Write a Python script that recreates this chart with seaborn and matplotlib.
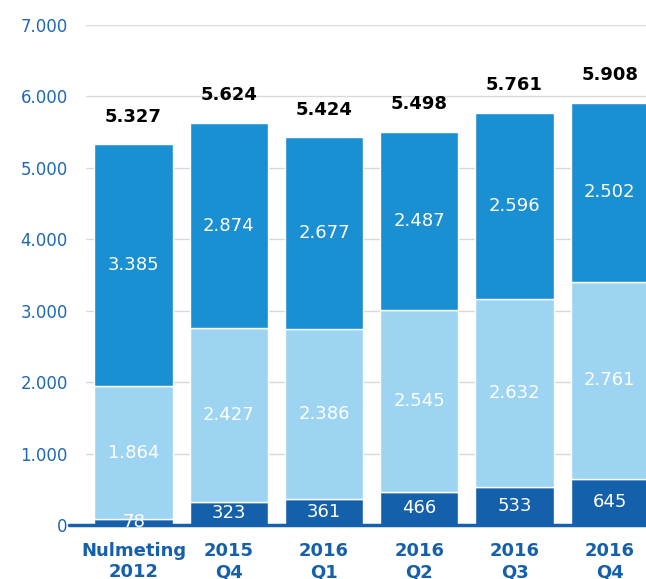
import seaborn as sns
import pandas as pd
import numpy as np
import matplotlib.pyplot as plt

# data
periods = ["Nulmeting\n2012", "2015\nQ4", "2016\nQ1", "2016\nQ2", "2016\nQ3", "2016\nQ4"]
bottom_vals = [78, 323, 361, 466, 533, 645]
middle_vals = [1864, 2427, 2386, 2545, 2632, 2761]
top_vals = [3385, 2874, 2677, 2487, 2596, 2502]
totals = [5327, 5624, 5424, 5498, 5761, 5908]

c_dark = "#1560ab"
c_light = "#9dd4f2"
c_mid = "#1a8fd1"
c_tick = "#1f68b3"

def nl(v):
    return f"{v:,}".replace(",", ".")

sns.set_style("white")
plt.rcParams["font.family"] = ["DejaVu Sans"]

fig = plt.figure(figsize=(6.46, 5.79), dpi=100)
ax = fig.add_axes([0.133, 0.0933, 0.867, 0.864])

df = pd.DataFrame({"period": periods, "b": bottom_vals, "m": middle_vals, "t": top_vals})
b = np.array(bottom_vals)
m = np.array(middle_vals)

sns.barplot(data=df, x="period", y="b", color=c_dark, saturation=1, width=0.82, ax=ax)
sns.barplot(data=df, x="period", y="m", bottom=b, color=c_light, saturation=1, width=0.82, ax=ax)
sns.barplot(data=df, x="period", y="t", bottom=b + m, color=c_mid, saturation=1, width=0.82, ax=ax)

for i in range(len(periods)):
    ax.text(i, bottom_vals[i] / 2, nl(bottom_vals[i]), ha="center", va="center",
            color="white", fontsize=13)
    ax.text(i, bottom_vals[i] + middle_vals[i] / 2, nl(middle_vals[i]), ha="center",
            va="center", color="white", fontsize=13)
    ax.text(i, bottom_vals[i] + middle_vals[i] + top_vals[i] / 2, nl(top_vals[i]),
            ha="center", va="center", color="white", fontsize=13)
    ax.annotate(nl(totals[i]), (i, totals[i]), xytext=(0, 20), textcoords="offset points",
                ha="center", va="center", fontsize=13, fontweight="bold", color="black")

ax.set_ylim(0, 7000)
ax.set_xlim(-0.5, 5.38)
ax.set_yticks(range(0, 7001, 1000))
ax.set_yticklabels([nl(v) for v in range(0, 7001, 1000)])
ax.yaxis.grid(True, color="#d9d9d9", linewidth=1)
ax.set_axisbelow(True)
for s in ["top", "right", "left", "bottom"]:
    ax.spines[s].set_visible(False)
ax.axhline(0, xmin=-0.03, xmax=1, color=c_dark, linewidth=2.5, clip_on=False)

ax.tick_params(axis="y", length=0, pad=13, labelsize=12, labelcolor=c_tick)
ax.tick_params(axis="x", length=0, pad=12.5, labelsize=13, labelcolor=c_dark)
for lbl in ax.get_xticklabels():
    lbl.set_fontweight("bold")
ax.set_xlabel("")
ax.set_ylabel("")

fig.savefig("out.png", dpi=100)
